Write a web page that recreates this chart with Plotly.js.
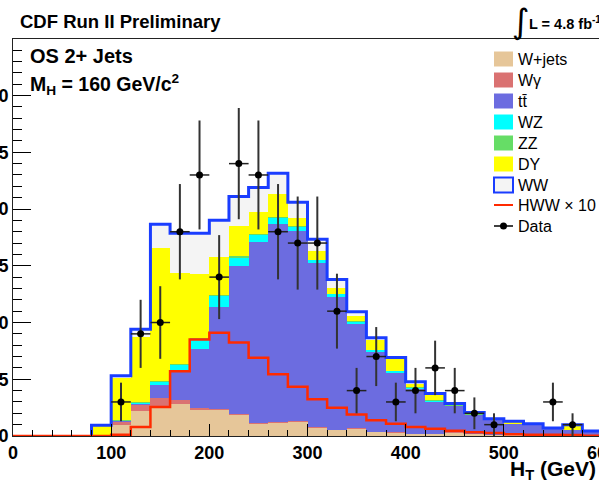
<!DOCTYPE html>
<html><head><meta charset="utf-8">
<script src="https://cdn.plot.ly/plotly-3.0.1.min.js"></script>
<style>html,body{margin:0;padding:0;overflow:hidden;background:#fff}</style>
</head><body><div id="chart" style="width:602px;height:482px"></div>
<script>
// ---- data ----
const binLow = [80,100,120,140,160,180,200,220,240,260,280,300,320,340,360,380,400,420,440,460,480,500,520,540,560,580];
const wjets  = [0,0.94,2.2,2.65,2.86,2.33,2.27,1.89,1.09,1.18,1.24,0.74,0.5,0.65,0.35,0.3,0.2,0.18,0.3,0.15,0.1,0.1,0.08,0.05,0.05,0.03];
const wgamma = [0,0.3,0.5,0.7,0.34,0.12,0.13,0.09,0.09,0.06,0.04,0.04,0.03,0.03,0.02,0.02,0.02,0.02,0.02,0.02,0.01,0.01,0.01,0.01,0.01,0.01];
const ttbar  = [0,0.06,0.15,1.12,2.45,5.25,9.0,13.02,15.92,17.46,16.79,14.42,11.71,9.18,6.99,5.23,3.93,2.8,2.28,1.68,1.29,0.94,0.86,0.54,0.44,0.31];
const wz     = [0,0.05,0.1,0.3,0.59,0.75,0.9,0.7,0.6,0.5,0.33,0.3,0.26,0.2,0.19,0.15,0.1,0.1,0.05,0.03,0.02,0.02,0.02,0.02,0.02,0.01];
const zz     = [0,0.02,0.05,0.08,0.11,0.15,0.15,0.15,0.1,0.1,0.1,0.05,0.05,0.04,0.05,0.05,0.05,0.05,0.05,0.07,0.03,0.03,0.03,0.02,0.03,0.02];
const dy     = [0.85,3.78,5.7,11.75,8.05,5.7,3.35,2.65,1.95,2.0,0.7,0.75,0.45,0.5,0.85,1.02,0.32,0.44,0.05,0.03,0.03,0.15,0.04,0.03,0.4,0.03];
const ww     = [0.1,0.15,0.7,2.06,3.46,3.56,3.2,2.6,2.15,1.86,1.4,1.03,0.8,0.34,0.2,0.15,0.15,0.15,0.11,0.08,0.05,0.05,0.05,0.04,0.05,0.03];
const hwwLow = [0,20,40,60,80,100,120,140,160,180,200,220,240,260,280,300,320,340,360,380,400,420,440,460,480,500,520,540,560,580];
const hww10  = [0,0,0,0,0,0.12,0.8,2.56,5.7,8.5,9.1,8.24,6.9,5.44,4.33,3.24,2.5,1.89,1.39,1.09,0.8,0.63,0.47,0.34,0.27,0.15,0.12,0.1,0.08,0.02];
const dataX   = [110,130,150,170,190,210,230,250,270,290,310,330,350,370,390,410,430,450,470,490,550,570];
const dataY   = [3,9,10,18,23,14,24,23,18,17,17,11,4,7,3,4,6,4,2,1,3,1];
const dataErr = [1.7,3.0,3.2,4.2,4.8,3.7,4.9,4.8,4.2,4.1,4.1,3.3,2.0,2.6,1.7,2.0,2.4,2.0,1.4,1.0,1.7,1.0];
const BIN_W = 20;
const X_MAX = 600;

// ---- styling ----
const FONT = 'Liberation Sans, Arial, sans-serif';
const comps = [
  {name:'W+jets', y:wjets,  color:'#e6c699'},
  {name:'Wγ',     y:wgamma, color:'#da7272'},
  {name:'tt\u0304', y:ttbar, color:'#6c6ce0'},
  {name:'WZ',     y:wz,     color:'#00ffff'},
  {name:'ZZ',     y:zz,     color:'#66dd66'},
  {name:'DY',     y:dy,     color:'#ffff00'},
  {name:'WW',     y:ww,     color:'#f4f4f4'}
];
const BLUE = '#1a3dff', RED = '#ff2a00';

const traces = comps.map(c => ({
  type:'bar', x:binLow, y:c.y, width:BIN_W, offset:0, name:c.name,
  marker:{color:c.color, line:{width:0}}, showlegend:false, hoverinfo:'skip'
}));

// WW outline along the stack top
const total = binLow.map((_, i) => comps.reduce((s, c) => s + c.y[i], 0));
const ox = [binLow[0]].concat(binLow, [X_MAX, X_MAX]);
const oy = [0].concat(total, [total[total.length-1], 0]);
traces.push({type:'scatter', mode:'lines', x:ox, y:oy, line:{shape:'hv', color:BLUE, width:3},
  showlegend:false, hoverinfo:'skip'});

// HWW x 10
traces.push({type:'scatter', mode:'lines', x:hwwLow.concat([X_MAX]), y:hww10.concat([hww10[hww10.length-1]]),
  line:{shape:'hv', color:RED, width:2.5}, showlegend:false, hoverinfo:'skip'});

// Data
traces.push({type:'scatter', mode:'markers', x:dataX, y:dataY,
  marker:{color:'#000', size:7},
  error_y:{type:'data', array:dataErr, visible:true, width:0, thickness:2, color:'#333'},
  error_x:{type:'constant', value:BIN_W/2, visible:true, width:0, thickness:1.5, color:'#222'},
  showlegend:false, hoverinfo:'skip'});

// ---- layout helpers (pixel -> paper) ----
const L = 13, T = 39, W = 602, H = 482, B = 46;
const PW = W - L, PH = H - T - B;
const px = p => (p - L) / PW;
const py = p => (H - B - p) / PH;

const annotations = [];
const shapes = [];
function txt(text, x, y, size, opts) {
  annotations.push(Object.assign({text, xref:'paper', yref:'paper', x:px(x), y:py(y),
    xanchor:'left', yanchor:'middle', showarrow:false,
    font:{family:FONT, size, color:'#000'}}, opts || {}));
}
txt('<b>CDF Run II Preliminary</b>', 18, 22, 18.5);
txt('\u222b', 510, 21, 34, {font:{family:'DejaVu Sans', size:34, color:'#000'}});
txt('<b>L = 4.8 fb<sup>-1</sup></b>', 527, 23, 14.5);
txt('<b>OS 2+ Jets</b>', 28, 56, 20);
txt('<b>M<sub>H</sub> = 160 GeV/c<sup>2</sup></b>', 28, 84, 19.5);
txt('<b>H<sub>T</sub> (GeV)</b>', 508, 470, 21);

// manual legend
const legY = [59, 80, 101, 122, 143, 164, 185, 205, 226];
comps.forEach((c, i) => {
  const cy = legY[i];
  shapes.push({type:'rect', xref:'paper', yref:'paper', x0:px(494), x1:px(513), y0:py(cy+7.5), y1:py(cy-7.5),
    fillcolor:c.color, line:(c.name === 'WW') ? {color:BLUE, width:2} : {width:0}});
  txt(c.name, 516, cy, 16);
});
shapes.push({type:'line', xref:'paper', yref:'paper', x0:px(494), x1:px(513), y0:py(legY[7]), y1:py(legY[7]),
  line:{color:RED, width:2}});
txt('HWW \u00d7 10', 516, legY[7], 16);
shapes.push({type:'line', xref:'paper', yref:'paper', x0:px(494), x1:px(513), y0:py(legY[8]), y1:py(legY[8]),
  line:{color:'#000', width:1.5}});
shapes.push({type:'circle', xref:'paper', yref:'paper', x0:px(500), x1:px(507), y0:py(legY[8]+3.5), y1:py(legY[8]-3.5),
  fillcolor:'#000', line:{width:0}});
txt('Data', 516, legY[8], 16);

const layout = {
  width:W, height:H, autosize:false,
  margin:{l:L, r:0, t:T, b:B, pad:0},
  paper_bgcolor:'#fff', plot_bgcolor:'#fff',
  barmode:'stack', bargap:0,
  font:{family:FONT, color:'#000'},
  showlegend:false,
  xaxis:{range:[0, X_MAX], tickmode:'linear', tick0:0, dtick:100, ticks:'inside', ticklen:12, tickwidth:1, tickcolor:'#000',
    ticklabeloverflow:'allow',
    minor:{tickmode:'linear', tick0:0, dtick:20, ticks:'inside', ticklen:6, tickwidth:1, tickcolor:'#000', showgrid:false},
    showline:true, linecolor:'#222', linewidth:1, mirror:true, showgrid:false, zeroline:false,
    tickfont:{family:FONT, size:18, weight:700, color:'#000'}},
  yaxis:{range:[0, 34.98], tickmode:'linear', tick0:0, dtick:5, ticks:'inside', ticklen:18, tickwidth:1, tickcolor:'#000',
    ticklabeloverflow:'allow',
    minor:{tickmode:'linear', tick0:0, dtick:1, ticks:'inside', ticklen:9, tickwidth:1, tickcolor:'#000', showgrid:false},
    showline:true, linecolor:'#222', linewidth:1, mirror:true, showgrid:false, zeroline:false,
    tickfont:{family:FONT, size:18, weight:700, color:'#000'}},
  annotations, shapes
};

Plotly.newPlot('chart', traces, layout, {staticPlot:true, displayModeBar:false});
</script></body></html>
